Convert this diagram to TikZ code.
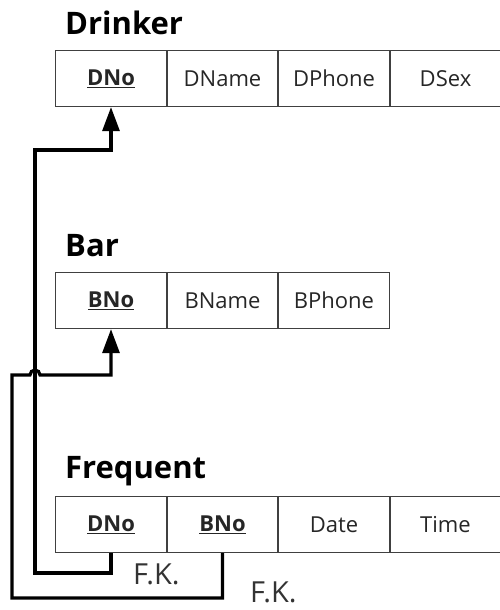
\documentclass[tikz,border=0pt]{standalone}
\usepackage{fontspec}
\setmainfont{Open Sans}
\usetikzlibrary{arrows.meta}
\newcommand{\keyAttr}[1]{\textbf{\underline{#1}}}

\begin{document}
\begin{tikzpicture}[x=1pt,y=-1pt,
  cell/.style={draw=black!75, line width=1.3pt, minimum width=111pt, minimum height=56pt, inner sep=0pt, text=black!85, font=\fontsize{22}{26}\selectfont},
  title/.style={anchor=base west, inner sep=0pt, font=\fontsize{31}{36}\selectfont\bfseries},
  fk/.style={line width=3.2pt, line join=miter},
  fktip/.style={-{Triangle[length=24pt,width=17pt]}},
  fklabel/.style={anchor=base west, inner sep=0pt, font=\fontsize{29}{34}\selectfont, text=black!80}]
\useasboundingbox (0,0) rectangle (499,610);
\node[title] (drinker) at (65,35) {Drinker};
\node[cell] (dno) at (111,78.5) {\keyAttr{DNo}};
\node[cell] (dname) at (222.5,78.5) {DName};
\node[cell] (dphone) at (334,78.5) {DPhone};
\node[cell] (dsex) at (445.5,78.5) {DSex};
\node[title] (bar) at (65,256) {Bar};
\node[cell] (bno) at (111,300.5) {\keyAttr{BNo}};
\node[cell] (bname) at (222.5,300.5) {BName};
\node[cell] (bphone) at (334,300.5) {BPhone};
\node[title] (frequent) at (65,478) {Frequent};
\node[cell] (fdno) at (111,524.5) {\keyAttr{DNo}};
\node[cell] (fbno) at (222.5,524.5) {\keyAttr{BNo}};
\node[cell] (fdate) at (334,524.5) {Date};
\node[cell] (ftime) at (445.5,524.5) {Time};
\coordinate (dlow) at (35,573);
\coordinate (dhigh) at (35,150);
\coordinate (blow) at (12,598);
\coordinate (bhigh) at (12,375);
\coordinate (bhop) at (30,375);
\draw[fk,fktip] (fdno.south) |- (dlow) -- (dhigh) -| (dno.south);
\draw[fk,fktip] (fbno.south) |- (blow) -- (bhigh) -- (bhop) arc[start angle=180, end angle=0, radius=5pt] -| (bno.south);
\node[fklabel] (fk1) at (133,584) {F.K.};
\node[fklabel] (fk2) at (250,602) {F.K.};
\end{tikzpicture}
\end{document}
